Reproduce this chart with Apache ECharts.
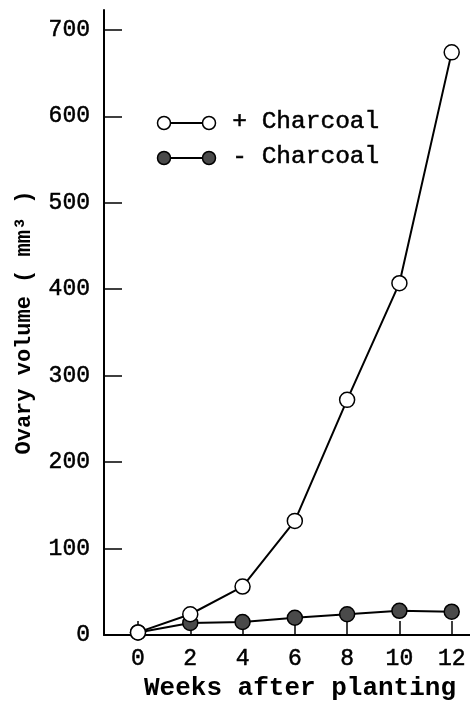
<!DOCTYPE html>
<html>
<head>
<meta charset="utf-8">
<script src="https://cdn.jsdelivr.net/npm/echarts@6/dist/echarts.min.js"></script>
<style>
  html, body { margin: 0; padding: 0; background: #fff; }
  #main { width: 470px; height: 706px; }
</style>
</head>
<body>
<div id="main"></div>
<script>
var chartDom = document.getElementById('main');
var myChart = echarts.init(chartDom);

var weeks = [0, 2, 4, 6, 8, 10, 12];
var withCharcoal = [3, 24, 56, 132, 272, 407, 674];
var withoutCharcoal = [3, 14, 15, 20, 24, 28, 27];
var yTicks = [0, 100, 200, 300, 400, 500, 600, 700];

var font = '"Liberation Mono", "DejaVu Sans Mono", monospace';

function pairs(ys) {
  return weeks.map(function (w, i) { return [w, ys[i]]; });
}

var option = {
  animation: false,
  grid: { left: 104, right: 0, top: 10, bottom: 71, outerBoundsMode: 'none' },
  xAxis: {
    type: 'value',
    min: -1.3,
    max: 12.7,
    name: 'Weeks after planting',
    nameLocation: 'middle',
    nameGap: 33,
    nameTextStyle: { fontFamily: font, fontSize: 26, fontWeight: 'bold', color: '#000', padding: [0, 0, 0, 26] },
    axisLine: { lineStyle: { color: '#000', width: 2 } },
    axisTick: { inside: true, length: 14, customValues: weeks, lineStyle: { color: '#000', width: 1.5 } },
    axisLabel: { customValues: weeks, fontFamily: font, fontSize: 23, color: '#000', margin: 12,
      textBorderColor: '#000', textBorderWidth: 0.5 },
    splitLine: { show: false }
  },
  yAxis: {
    type: 'value',
    min: 0,
    max: 723,
    name: 'Ovary volume ( mm\u00b3 )',
    nameLocation: 'middle',
    nameRotate: 90,
    nameGap: 69,
    nameTextStyle: { fontFamily: font, fontSize: 22, fontWeight: 'bold', color: '#000' },
    axisLine: { onZero: false, lineStyle: { color: '#000', width: 2 } },
    axisTick: { inside: true, length: 18, customValues: yTicks, lineStyle: { color: '#000', width: 1.5 } },
    axisLabel: { customValues: yTicks, fontFamily: font, fontSize: 23, color: '#000', margin: 14,
      textBorderColor: '#000', textBorderWidth: 0.5 },
    splitLine: { show: false }
  },
  graphic: [
    { type: 'line', shape: { x1: 164, y1: 123, x2: 209, y2: 123 }, style: { stroke: '#000', lineWidth: 1.8 } },
    { type: 'circle', shape: { cx: 164, cy: 123, r: 6.5 }, style: { fill: '#fff', stroke: '#000', lineWidth: 1.5 } },
    { type: 'circle', shape: { cx: 209, cy: 123, r: 6.5 }, style: { fill: '#fff', stroke: '#000', lineWidth: 1.5 } },
    { type: 'text', left: 232, top: 109, style: { text: '+ Charcoal', font: '24.5px ' + font, fill: '#000', stroke: '#000', lineWidth: 0.5 } },
    { type: 'line', shape: { x1: 164, y1: 158, x2: 209, y2: 158 }, style: { stroke: '#000', lineWidth: 1.8 } },
    { type: 'circle', shape: { cx: 164, cy: 158, r: 6.5 }, style: { fill: '#4a4a4a', stroke: '#000', lineWidth: 1.5 } },
    { type: 'circle', shape: { cx: 209, cy: 158, r: 6.5 }, style: { fill: '#4a4a4a', stroke: '#000', lineWidth: 1.5 } },
    { type: 'text', left: 232, top: 144, style: { text: '- Charcoal', font: '24.5px ' + font, fill: '#000', stroke: '#000', lineWidth: 0.5 } }
  ],
  series: [
    {
      name: '- Charcoal',
      type: 'line',
      data: pairs(withoutCharcoal),
      symbol: 'circle',
      symbolSize: 15,
      lineStyle: { color: '#000', width: 2 },
      itemStyle: { color: '#4a4a4a', borderColor: '#000', borderWidth: 1.5 },
      z: 2
    },
    {
      name: '+ Charcoal',
      type: 'line',
      data: pairs(withCharcoal),
      symbol: 'circle',
      symbolSize: 15,
      lineStyle: { color: '#000', width: 2 },
      itemStyle: { color: '#fff', borderColor: '#000', borderWidth: 1.5 },
      z: 3
    }
  ]
};

option && myChart.setOption(option);
</script>
</body>
</html>
